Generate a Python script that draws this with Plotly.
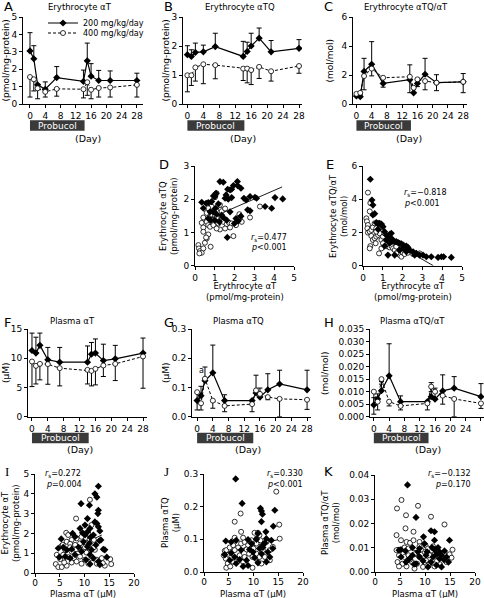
import plotly.graph_objects as go

W, H = 484, 598
FONT = "DejaVu Sans"

# ---------------- data ----------------
days = [0, 1, 2, 4, 7, 14, 15, 16, 18, 21, 28]

a_200 = [3.05, 2.6, 1.1, 0.85, 1.52, 1.3, 2.48, 1.6, 1.35, 1.35, 1.35]
a_200_err = [1.05, 0.75, 0.0, 0.42, 0.63, 0.65, 1.02, 0.72, 0.58, 0.55, 0.42]
a_400 = [1.55, 1.42, 0.9, 0.7, 0.87, 0.85, 1.25, 0.82, 0.92, 0.95, 1.1]
a_400_err = [1.15, 0.67, 0.6, 0.3, 0.42, 0.5, 0.75, 0.52, 0.52, 0.55, 0.7]

b_200 = [1.70, 1.64, 1.78, 1.80, 1.98, 1.64, 1.81, 2.0, 2.27, 1.80, 1.92]
b_200_err = [0.31, 0.23, 0.32, 0.23, 0.46, 0.52, 0.32, 0.44, 0.35, 0.39, 0.30]
b_400 = [0.99, 0.99, 1.26, 1.37, 1.34, 1.22, 1.22, 1.17, 1.28, 1.13, 1.31]
b_400_err = [0.57, 0.35, 0.47, 0.67, 0.47, 0.41, 0.49, 0.50, 0.40, 0.34, 0.25]

c_200 = [0.55, 0.5, 2.25, 2.74, 1.42, 1.68, 0.77, 1.42, 2.05, 1.47, 1.53]
c_200_err = [0.2, 0.15, 0.9, 1.56, 0.0, 1.02, 0.0, 0.35, 1.1, 0.55, 0.57]
c_400 = [0.7, 0.77, 1.93, 2.44, 1.81, 1.88, 1.12, 1.70, 1.58, 1.47, 1.53]
c_400_err = [0.1, 0.2, 0.95, 0.5, 0.65, 1.1, 0.35, 0.5, 0.6, 0.55, 0.75]

f_200 = [11.33, 10.88, 12.2, 9.73, 9.33, 9.33, 10.7, 10.88, 9.6, 9.9, 10.88]
f_200_err = [2.97, 2.72, 2.1, 2.12, 2.52, 2.77, 2.0, 2.42, 2.8, 2.3, 2.57]
f_400 = [9.44, 8.7, 9.04, 8.99, 8.3, 8.01, 7.84, 8.19, 8.76, 9.04, 10.3]
f_400_err = [4.29, 3.1, 2.74, 3.44, 3.03, 2.41, 2.57, 2.75, 1.89, 2.86, 5.43]

g_200 = [0.055, 0.072, 0.123, 0.150, 0.055, 0.055, 0.081, 0.067, 0.092, 0.112, 0.092]
g_200_err = [0.0, 0.032, 0.047, 0.095, 0.02, 0.0, 0.061, 0.031, 0.055, 0.047, 0.067]
g_400 = [0.084, 0.046, 0.130, 0.055, 0.037, 0.043, 0.090, 0.078, 0.067, 0.061, 0.058]
g_400_err = [0.061, 0.023, 0.0, 0.026, 0.02, 0.026, 0.0, 0.0, 0.009, 0.061, 0.033]

h_200 = [0.0047, 0.0071, 0.0104, 0.0163, 0.006, 0.006, 0.008, 0.007, 0.0103, 0.0114, 0.008]
h_200_err = [0.0029, 0.002, 0.0036, 0.0128, 0.0023, 0.0, 0.0056, 0.0044, 0.0064, 0.0046, 0.0052]
h_400 = [0.010, 0.006, 0.015, 0.006, 0.0043, 0.0053, 0.012, 0.010, 0.0084, 0.0071, 0.0053]
h_400_err = [0.009, 0.0033, 0.002, 0.0017, 0.0016, 0.0026, 0.002, 0.0, 0.0034, 0.0071, 0.002]

# D: erythrocyte aT vs erythrocyte aTQ
d_200_x = [0.34, 0.56, 0.67, 0.84, 0.93, 1.0, 1.06, 1.26, 1.43, 1.65, 1.77, 1.85, 1.94, 2.14, 2.15, 2.32,
           1.85, 1.68, 1.52, 1.18, 0.76, 0.67, 0.93, 1.0, 1.35, 1.6, 1.43, 1.63, 2.07, 2.32, 2.58, 2.66,
           2.78, 2.78, 3.03, 3.11, 3.54, 3.87, 4.04, 4.43, 0.79, 1.09, 1.99, 2.19, 1.77, 1.23, 0.42, 1.57,
           1.03, 2.47]
d_200_y = [1.91, 1.88, 1.90, 1.93, 2.1, 2.08, 2.18, 2.53, 2.51, 2.3, 2.28, 2.3, 2.41, 2.53, 2.41, 2.33,
           2.05, 2.0, 2.03, 1.86, 1.62, 1.42, 1.62, 1.37, 1.52, 1.37, 1.45, 0.85, 1.42, 1.49, 1.98, 1.68,
           1.65, 2.08, 2.06, 2.03, 1.78, 1.73, 2.05, 2.01, 1.37, 1.55, 1.27, 1.35, 1.62, 1.32, 1.73, 2.13,
           1.73, 2.03]
d_400_x = [0.17, 0.2, 0.25, 0.34, 0.22, 0.42, 0.5, 0.59, 0.67, 0.79, 0.34, 0.42, 0.5, 0.59, 0.67, 0.76,
           0.84, 0.93, 1.01, 1.09, 1.18, 1.26, 1.3, 1.35, 1.43, 1.52, 1.6, 1.73, 1.85, 1.94, 2.07, 2.24,
           2.27, 2.36, 1.09, 1.01, 0.84, 0.59, 0.42, 0.76, 0.93, 1.09, 1.52, 1.77, 0.67, 1.26, 3.28, 2.78,
           0.42, 0.56, 0.84, 1.35]
d_400_y = [0.62, 0.52, 0.44, 0.39, 0.37, 0.52, 0.69, 0.82, 0.94, 0.57, 1.29, 1.15, 1.40, 1.32, 1.22, 1.49,
           1.55, 1.65, 1.52, 1.45, 1.27, 1.09, 1.69, 1.64, 1.32, 1.72, 1.25, 1.29, 1.27, 0.89, 1.22, 1.55,
           1.45, 1.32, 2.18, 2.06, 1.78, 1.59, 1.45, 1.17, 1.22, 1.12, 1.12, 1.15, 1.73, 1.83, 1.78, 1.45,
           1.02, 0.85, 1.37, 1.47]
d_fit_x = [0.5, 4.4]
d_fit_y = [1.36, 2.37]

# E: erythrocyte aT vs erythrocyte aTQ/aT
e_200_x = [0.37, 0.45, 0.5, 0.5, 0.59, 0.76, 0.84, 0.93, 1.01, 1.09, 1.18, 1.26, 1.35, 1.43, 1.52, 1.6,
           1.68, 1.77, 1.85, 1.94, 2.02, 2.1, 2.19, 2.27, 2.36, 2.53, 2.61, 2.7, 2.86, 3.03, 3.2, 3.45,
           3.79, 3.96, 4.07, 4.46, 1.26, 1.6, 1.85, 1.09, 1.35, 2.02, 2.19, 0.76, 1.18, 0.67, 2.61, 1.43]
e_200_y = [5.2, 3.95, 3.65, 3.05, 3.13, 2.55, 2.55, 2.51, 2.35, 2.05, 1.85, 1.75, 1.89, 1.65, 1.51, 1.45,
           1.45, 1.39, 1.35, 1.31, 1.25, 1.18, 1.18, 1.10, 0.94, 0.84, 0.74, 0.74, 0.64, 0.64, 0.54, 0.54,
           0.50, 0.54, 0.54, 0.50, 0.64, 0.64, 0.94, 1.18, 1.35, 1.04, 0.84, 2.19, 1.55, 2.59, 0.64, 1.95]
e_400_x = [0.25, 0.37, 0.34, 0.17, 0.2, 0.25, 0.22, 0.25, 0.34, 0.42, 0.5, 0.59, 0.67, 0.76, 0.84, 0.93,
           0.42, 0.5, 0.37, 0.34, 0.59, 0.67, 0.76, 0.84, 0.93, 1.01, 1.09, 1.18, 1.26, 1.35, 1.43, 1.52,
           1.6, 1.68, 1.77, 1.85, 1.94, 2.02, 2.1, 2.27, 2.53, 2.86, 0.81, 1.01, 1.26, 0.64, 1.43, 1.09,
           0.67, 0.93, 1.68]
e_400_y = [4.4, 3.77, 3.27, 2.85, 2.67, 2.45, 2.25, 1.99, 2.05, 2.15, 2.31, 2.55, 2.25, 2.15, 2.25, 2.45,
           1.79, 1.55, 1.18, 1.04, 1.65, 1.75, 1.85, 1.95, 1.55, 1.75, 1.45, 1.25, 1.15, 1.10, 1.18, 1.04,
           0.94, 1.15, 0.84, 0.64, 0.54, 0.78, 0.70, 0.78, 0.70, 0.74, 0.74, 1.35, 1.55, 1.35, 1.45, 1.95,
           2.05, 1.04, 0.74]
e_fit_x = [0.2, 3.55]
e_fit_y = [2.3, 0.0]

# I: plasma aT vs erythrocyte aT
i_200_x = [12.8, 12.1, 12.5, 11.0, 9.3, 12.8, 12.7, 10.6, 12.1, 12.5, 12.8, 10.1, 9.1, 11.1, 13.1, 13.3,
           11.8, 7.6, 8.1, 10.1, 10.6, 11.2, 9.8, 12.3, 13.0, 4.7, 5.7, 6.4, 7.4, 8.8, 9.4, 10.6, 11.4,
           13.8, 14.1, 4.9, 6.1, 7.1, 8.1, 10.3, 11.1, 11.8, 12.8, 14.5, 11.1, 13.1, 5.3, 9.6, 11.0]
i_200_y = [4.38, 4.0, 3.83, 3.42, 3.5, 3.17, 3.0, 2.75, 2.58, 2.5, 2.33, 2.42, 2.25, 2.25, 2.12, 1.67,
           1.92, 2.0, 1.83, 1.92, 2.08, 1.8, 1.58, 1.42, 1.63, 1.25, 1.3, 1.17, 1.2, 1.3, 1.08, 1.33, 1.17,
           1.2, 1.17, 0.8, 0.83, 0.75, 0.92, 0.67, 0.92, 0.75, 0.58, 0.8, 0.45, 0.42, 1.72, 2.03, 1.5]
i_400_x = [11.1, 8.3, 6.3, 6.7, 7.4, 8.4, 9.4, 10.8, 11.4, 11.0, 10.3, 11.9, 6.4, 5.4, 7.1, 8.1, 9.1,
           6.1, 7.4, 8.3, 9.8, 10.4, 12.1, 4.4, 5.1, 5.7, 6.7, 7.9, 9.1, 10.1, 11.4, 12.5, 13.5, 15.2, 15.4,
           4.2, 4.7, 5.4, 6.4, 7.4, 9.4, 10.8, 12.5, 14.1, 13.7, 11.9, 10.1, 7.1, 5.6, 5.9, 8.4]
i_400_y = [3.7, 2.75, 2.03, 1.92, 1.67, 1.75, 1.83, 1.97, 2.42, 1.67, 1.53, 1.67, 1.58, 1.37, 1.47, 1.42,
           1.5, 1.17, 1.08, 1.2, 1.2, 1.03, 1.17, 0.92, 0.7, 0.92, 0.8, 0.75, 0.83, 0.67, 0.75, 0.67, 0.75,
           0.7, 0.45, 0.45, 0.3, 0.3, 0.37, 0.53, 0.47, 0.47, 0.47, 0.37, 0.5, 1.3, 1.3, 1.3, 1.42, 0.53,
           0.58]
i_fit_x = [4.3, 13.5]
i_fit_y = [0.8, 1.92]

# J: plasma aT vs plasma aTQ
j_200_x = [6.4, 7.7, 11.4, 11.6, 14.3, 11.8, 11.6, 14.0, 12.5, 10.9, 4.4, 5.5, 6.5, 8.9, 10.6, 12.6,
           12.3, 11.9, 11.2, 9.9, 9.2, 7.5, 5.5, 4.2, 6.2, 7.2, 8.6, 10.2, 11.6, 12.9, 13.3, 12.6, 10.9,
           7.9, 8.9, 6.5, 5.2, 13.9, 9.6, 13.6, 11.9]
j_200_y = [0.285, 0.21, 0.195, 0.187, 0.189, 0.177, 0.154, 0.140, 0.123, 0.118, 0.095, 0.092, 0.097,
           0.099, 0.100, 0.102, 0.089, 0.075, 0.072, 0.061, 0.069, 0.067, 0.058, 0.053, 0.046, 0.038,
           0.036, 0.044, 0.056, 0.061, 0.046, 0.031, 0.028, 0.017, 0.02, 0.026, 0.036, 0.072, 0.087,
           0.097, 0.082]
j_400_x = [14.6, 7.4, 6.2, 15.2, 7.5, 10.2, 10.9, 11.2, 6.2, 15.3, 4.2, 4.5, 5.2, 5.9, 6.9, 7.5, 8.2,
           8.9, 9.6, 10.6, 11.4, 12.6, 13.9, 13.3, 4.4, 4.8, 4.5, 5.3, 5.9, 6.5, 7.2, 8.2, 9.1, 9.8, 10.6,
           11.2, 12.3, 10.9, 11.6, 9.8, 7.9, 5.5, 13.3, 6.2, 8.6, 10.0, 11.9, 4.0, 7.9, 10.6]
j_400_y = [0.246, 0.179, 0.154, 0.145, 0.123, 0.120, 0.120, 0.113, 0.105, 0.102, 0.065, 0.067, 0.075,
           0.082, 0.075, 0.087, 0.092, 0.082, 0.097, 0.087, 0.097, 0.092, 0.077, 0.067, 0.041, 0.026,
           0.013, 0.017, 0.031, 0.038, 0.051, 0.046, 0.056, 0.046, 0.056, 0.046, 0.046, 0.031, 0.026,
           0.013, 0.031, 0.046, 0.036, 0.067, 0.069, 0.072, 0.067, 0.051, 0.105, 0.102]
j_fit_x = [4.2, 15.2]
j_fit_y = [0.058, 0.100]

# K: plasma aT vs plasma aTQ/aT
k_200_x = [6.5, 8.2, 11.2, 11.9, 11.9, 14.9, 5.2, 6.1, 7.5, 8.9, 9.9, 11.4, 12.6, 12.9, 13.9, 7.5, 8.9,
           10.2, 11.6, 12.9, 14.3, 6.2, 8.2, 9.6, 11.2, 12.3, 13.3, 10.6, 5.2, 6.9, 8.6, 10.4, 12.3, 13.8,
           14.7, 9.7, 11.9, 7.8, 13.3, 4.8]
k_200_y = [0.0359, 0.0225, 0.017, 0.0166, 0.0131, 0.0131, 0.0092, 0.0087, 0.0101, 0.0097, 0.0117,
           0.0101, 0.0101, 0.0083, 0.0087, 0.0069, 0.0062, 0.0069, 0.0062, 0.0055, 0.0062, 0.0041,
           0.0034, 0.0046, 0.0041, 0.0028, 0.0021, 0.0021, 0.0062, 0.0055, 0.0083, 0.0083, 0.0073,
           0.0051, 0.0041, 0.0145, 0.0092, 0.0032, 0.0069, 0.009]
k_400_x = [5.3, 8.6, 4.4, 6.2, 11.2, 13.9, 4.3, 6.1, 7.7, 5.2, 6.3, 7.0, 7.7, 8.9, 10.1, 11.6, 8.9, 5.9,
           6.7, 4.3, 4.8, 5.9, 6.7, 7.9, 8.9, 9.9, 10.9, 11.9, 12.9, 13.9, 14.9, 15.5, 4.5, 5.5, 6.3, 7.4,
           8.4, 9.6, 9.9, 10.9, 11.9, 13.0, 14.3, 15.3, 4.8, 7.9, 10.2, 12.4, 7.0, 9.2, 10.6]
k_400_y = [0.0297, 0.0273, 0.0262, 0.0234, 0.0228, 0.0196, 0.0152, 0.018, 0.0166, 0.0131, 0.0124,
           0.012, 0.0131, 0.0124, 0.011, 0.0106, 0.0106, 0.0101, 0.0097, 0.009, 0.0069, 0.0062, 0.0069,
           0.0073, 0.0062, 0.0083, 0.0069, 0.0073, 0.0062, 0.0072, 0.0073, 0.0092, 0.0041, 0.0034,
           0.0023, 0.0041, 0.0034, 0.0021, 0.0041, 0.0034, 0.0023, 0.0032, 0.0041, 0.0059, 0.0023,
           0.0014, 0.0048, 0.0046, 0.0051, 0.0092, 0.0097]
k_fit_x = [4.3, 15.5]
k_fit_y = [0.0101, 0.0065]

time_ticks = [0, 4, 8, 12, 16, 20, 24, 28]

# ---------------- layout helpers ----------------
def fx(p):
    return p / W


def fy(p):
    return 1 - p / H


fig = go.Figure()

FILLED = dict(symbol="diamond", size=5.5, color="black")
OPEN = dict(symbol="circle", size=5, color="white", line=dict(color="black", width=0.8))


def ts_panel(n, y200, e200, y400, e400, legend=False):
    xa, ya = ("x" if n == 1 else f"x{n}"), ("y" if n == 1 else f"y{n}")
    fig.add_trace(go.Scatter(
        x=days, y=y200, mode="lines+markers", xaxis=xa, yaxis=ya,
        line=dict(color="black", width=1.2), marker=FILLED,
        error_y=dict(type="data", symmetric=False, array=e200, arrayminus=[0] * len(e200),
                     color="black", thickness=1, width=2.5),
        name="200 mg/kg/day", showlegend=legend, legend="legend"))
    fig.add_trace(go.Scatter(
        x=days, y=y400, mode="lines+markers", xaxis=xa, yaxis=ya,
        line=dict(color="black", width=1.0, dash="3px,2px"), marker=OPEN,
        error_y=dict(type="data", symmetric=False, array=[0] * len(e400), arrayminus=e400,
                     color="black", thickness=1, width=2.5),
        name="400 mg/kg/day", showlegend=legend, legend="legend2"))


def sc_panel(n, x2, y2, x4, y4, fxv, fyv):
    xa, ya = f"x{n}", f"y{n}"
    fig.add_trace(go.Scatter(x=fxv, y=fyv, mode="lines", xaxis=xa, yaxis=ya,
                             line=dict(color="black", width=0.9), showlegend=False))
    fig.add_trace(go.Scatter(x=x4, y=y4, mode="markers", xaxis=xa, yaxis=ya,
                             marker=OPEN, showlegend=False))
    fig.add_trace(go.Scatter(x=x2, y=y2, mode="markers", xaxis=xa, yaxis=ya,
                             marker=FILLED, showlegend=False))


ts_panel(1, a_200, a_200_err, a_400, a_400_err, legend=True)
ts_panel(2, b_200, b_200_err, b_400, b_400_err)
ts_panel(3, c_200, c_200_err, c_400, c_400_err)
sc_panel(4, d_200_x, d_200_y, d_400_x, d_400_y, d_fit_x, d_fit_y)
sc_panel(5, e_200_x, e_200_y, e_400_x, e_400_y, e_fit_x, e_fit_y)
ts_panel(6, f_200, f_200_err, f_400, f_400_err)
ts_panel(7, g_200, g_200_err, g_400, g_400_err)
ts_panel(8, h_200, h_200_err, h_400, h_400_err)
sc_panel(9, i_200_x, i_200_y, i_400_x, i_400_y, i_fit_x, i_fit_y)
sc_panel(10, j_200_x, j_200_y, j_400_x, j_400_y, j_fit_x, j_fit_y)
sc_panel(11, k_200_x, k_200_y, k_400_x, k_400_y, k_fit_x, k_fit_y)

# panel geometry (pixels): x-left, x-right, y-top, y-bottom, xrange, yrange, ydtick, yfmt, kind
geo = {
    1: (23, 143, 17, 104, [-1.83, 29.6], [0, 5], 1, "", "t"),
    2: (183, 302, 17, 104, [-1.1, 28.75], [0, 3], 1, "", "t"),
    3: (353, 467, 17, 104, [-0.9, 29.0], [0, 6], 2, "", "t"),
    4: (195, 294, 166, 265.7, [0, 5], [0, 3], 1, "", "s"),
    5: (363, 462, 166, 265.7, [0, 5], [0, 6], 2, "", "s"),
    6: (28, 147, 329, 416.7, [-1.0, 29.0], [0, 15], 5, "", "t"),
    7: (192, 311, 329, 416.7, [-1.3, 29.0], [0, 0.3], 0.1, ".1f", "t"),
    8: (370, 484, 329, 416.7, [-1.0, 28.8], [0, 0.035], 0.005, ".3f", "t"),
    9: (35, 134, 474, 573, [0, 20], [0, 5], 1, "", "s5"),
    10: (204, 303, 474, 572, [0, 20], [0, 0.3], 0.1, ".1f", "s5"),
    11: (375, 475, 475, 572, [0, 20], [0, 0.04], 0.01, ".2f", "s5"),
}

common = dict(showline=True, linecolor="black", linewidth=1, ticks="outside", ticklen=3,
              tickwidth=1, tickcolor="black", showgrid=False, zeroline=False, fixedrange=True,
              automargin=False, tickfont=dict(family=FONT, size=9, color="black"))

layout = {}
for n, (x0, x1, y0, y1, xr, yr, ydt, yfmt, kind) in geo.items():
    xk = "xaxis" if n == 1 else f"xaxis{n}"
    yk = "yaxis" if n == 1 else f"yaxis{n}"
    xs = "x" if n == 1 else f"x{n}"
    ys = "y" if n == 1 else f"y{n}"
    xa = dict(common, domain=[fx(x0), fx(x1)], range=xr, anchor=ys)
    if kind == "t":
        xa.update(tickmode="array", tickvals=time_ticks)
    elif kind == "s":
        xa.update(tickmode="linear", tick0=0, dtick=1)
    else:
        xa.update(tickmode="linear", tick0=0, dtick=5, ticklabelstandoff=-2)
    ya = dict(common, domain=[fy(y1), fy(y0)], range=yr, anchor=xs,
              tickmode="linear", tick0=0, dtick=ydt, tickformat=yfmt)
    layout[xk] = xa
    layout[yk] = ya

annotations = []
shapes = []


def ann(text, x, y, size=9, xanchor="center", yanchor="middle", angle=0, **kw):
    annotations.append(dict(text=text, x=fx(x), y=fy(y), xref="paper", yref="paper",
                            showarrow=False, xanchor=xanchor, yanchor=yanchor, textangle=angle,
                            font=dict(family=kw.pop("family", FONT), size=size, color="black"), **kw))


# panel letters
for letter, (lx, ly) in {"A": (2, 7), "B": (162, 7), "C": (322, 7), "D": (157, 164),
                         "E": (324, 164), "F": (2, 322), "G": (162, 322), "H": (322, 322),
                         "I": (3, 471), "J": (162, 471), "K": (322, 471)}.items():
    fam = "Liberation Serif" if letter in ("I", "J") else FONT
    ann(letter, lx, ly, size=13, xanchor="left", family=fam)

# panel titles
ann("Erythrocyte αT", 80, 7, size=8.5)
ann("Erythrocyte αTQ", 240, 7, size=8.5)
ann("Erythrocyte αTQ/αT", 406, 7, size=8.5)
ann("Plasma αT", 72, 321, size=8.5)
ann("Plasma αTQ", 238, 321, size=8.5)
ann("Plasma αTQ/αT", 412, 321, size=8.5)

# y-axis titles of time-course panels
ann("(pmol/mg-protein)", 6, 60.5, angle=-90)
ann("(pmol/mg-protein)", 166, 60.5, angle=-90)
ann("(mol/mol)", 330, 60.5, angle=-90)
ann("(μM)", 6, 373, angle=-90)
ann("(μM)", 166, 373, angle=-90)
ann("(mol/mol)", 325, 373, angle=-90)

# (Day) labels
for dx, dy in [(88, 138), (243, 138), (409, 138), (80, 449), (248, 449), (428, 449)]:
    ann("(Day)", dx, dy, size=9.5)

# Probucol bars
for n, by in [(1, 125.5), (2, 125.5), (3, 125.5), (6, 438), (7, 438), (8, 438)]:
    xs = "x" if n == 1 else f"x{n}"
    shapes.append(dict(type="rect", xref=xs, yref="paper", x0=0, x1=14.3,
                       y0=fy(by + 5.3), y1=fy(by - 5.3), fillcolor="#3a3a3a", line=dict(width=0)))
    annotations.append(dict(text="Probucol", x=7.15, y=fy(by), xref=xs, yref="paper",
                            showarrow=False, xanchor="center", yanchor="middle",
                            font=dict(family=FONT, size=9, color="white")))

# scatter axis titles
ann("Erythrocyte αTQ<br>(pmol/mg-protein)", 168, 216, angle=-90, size=8.5)
ann("Erythrocyte αT<br>(pmol/mg-protein)", 245, 291.5, size=8.5)
ann("Erythrocyte αTQ/αT<br>(mol/mol)", 338, 216, angle=-90, size=8.5)
ann("Erythrocyte αT<br>(pmol/mg-protein)", 413, 291.5, size=8.5)
ann("Erythrocyte αT<br>(pmol/mg-protein)", 10, 523, angle=-90, size=8.5)
ann("Plasma αT (μM)", 83, 594, size=8.5)
ann("Plasma αTQ<br>(μM)", 170, 523, angle=-90, size=8.5)
ann("Plasma αT (μM)", 253, 594, size=8.5)
ann("Plasma αTQ/αT<br>(mol/mol)", 330, 523, angle=-90, size=8.5)
ann("Plasma αT (μM)", 425, 594, size=8.5)

# correlation statistics
ann("<i>r</i><sub>s</sub>=0.477", 289, 238, size=8, xanchor="right")
ann("<i>p</i>&lt;0.001", 289, 248, size=8, xanchor="right")
ann("<i>r</i><sub>s</sub>=−0.818", 402, 193, size=8, xanchor="left")
ann("<i>p</i>&lt;0.001", 402, 203, size=8, xanchor="left")
ann("<i>r</i><sub>s</sub>=0.272", 43, 474, size=8, xanchor="left")
ann("<i>p</i>=0.004", 44, 484, size=8, xanchor="left")
ann("<i>r</i><sub>s</sub>=0.330", 305, 474, size=8, xanchor="right")
ann("<i>p</i>&lt;0.001", 305, 484, size=8, xanchor="right")
ann("<i>r</i><sub>s</sub>=−0.132", 473, 474, size=8, xanchor="right")
ann("<i>p</i>=0.170", 473, 484, size=8, xanchor="right")

# significance mark in G
annotations.append(dict(text="a", x=1.1, y=0.157, xref="x7", yref="y7", showarrow=False,
                        font=dict(family=FONT, size=8, color="black")))

fig.update_layout(
    width=W, height=H, margin=dict(l=0, r=0, t=0, b=0, pad=0, autoexpand=False),
    paper_bgcolor="white", plot_bgcolor="white",
    font=dict(family=FONT, size=9, color="black"),
    annotations=annotations, shapes=shapes,
    legend=dict(x=fx(43), y=fy(23), xanchor="left", yanchor="middle", bgcolor="rgba(0,0,0,0)",
                font=dict(family=FONT, size=8, color="black")),
    legend2=dict(x=fx(43), y=fy(33), xanchor="left", yanchor="middle", bgcolor="rgba(0,0,0,0)",
                 font=dict(family=FONT, size=8, color="black")),
    **layout,
)

# remove the browser's default page margin so the figure starts at the window corner
fig.write_html("out.html", config={"displayModeBar": False},
               post_script="document.body.style.margin='0px';")
